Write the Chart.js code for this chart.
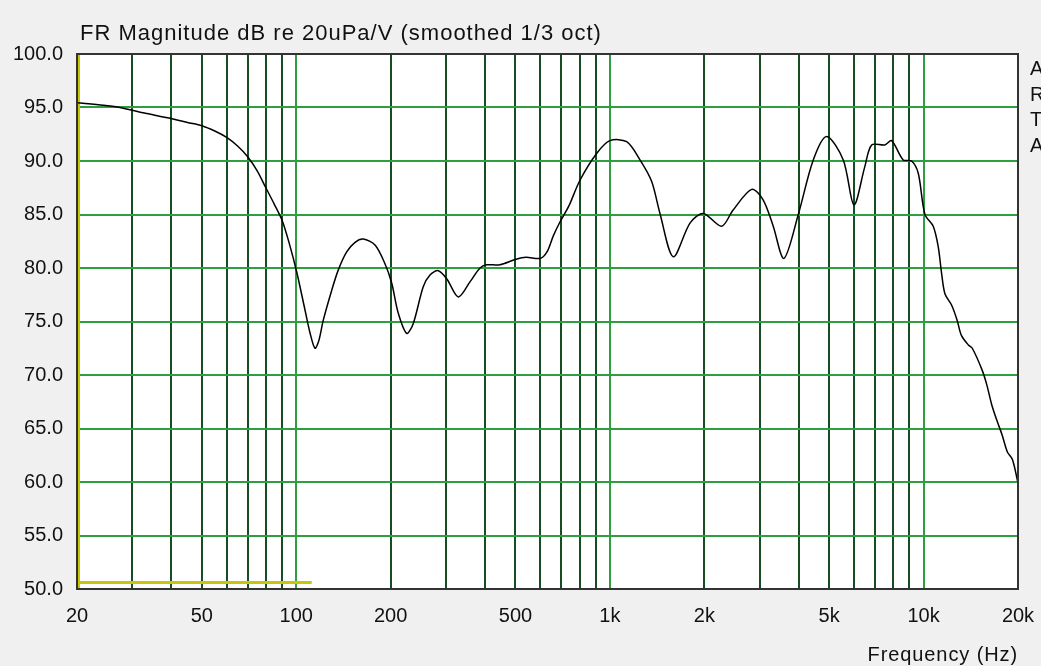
<!DOCTYPE html>
<html>
<head>
<meta charset="utf-8">
<title>FR Magnitude</title>
<script src="https://cdn.jsdelivr.net/npm/chart.js@4.4.1/dist/chart.umd.min.js"></script>
<style>
html, body { margin: 0; padding: 0; background: #f0f0f0; }
canvas { display: block; }
</style>
</head>
<body>
<canvas id="fr" width="1041" height="666"></canvas>
<script>
// Frequency response (Hz / dB)
var freqs = [20, 24.3, 27.4, 32.5, 39.6, 45, 50, 55, 60, 65, 70, 75, 80, 85, 90, 95, 100.3, 106.6, 110.5, 114.7, 118, 121.9,
    129.7, 136.1, 144.8, 154, 163.5, 178.3, 191.8, 201.5, 211.4, 225, 236, 254, 266.9, 283.6, 301.8, 328.6, 357.9, 385.3,
    404.6, 446, 500, 540, 600, 630, 660, 693, 740, 802.6, 907, 1000, 1131, 1247, 1358, 1444, 1592, 1800, 1984, 2270, 2468,
    2830, 3076, 3309, 3588, 3986, 4449, 4907, 5546, 5998, 6500, 6830, 7530, 7909, 8610, 9157, 9617, 10100, 10734, 11134,
    11414, 11696, 12300, 12800, 13200, 13900, 14300, 15350, 15900, 16500, 17200, 17800, 18500, 19200, 20000];
var levels = [95.45, 95.2, 95.0, 94.5, 94.0, 93.6, 93.3, 92.8, 92.2, 91.4, 90.4, 89.1, 87.5, 86.0, 84.5, 82.3, 79.65, 76.1, 74.0, 72.5, 73.2, 75.1,
    77.9, 79.8, 81.5, 82.4, 82.7, 82.15, 80.4, 78.6, 75.8, 73.9, 74.8, 78.25, 79.35, 79.75, 79.0, 77.3, 78.7, 80.0,
    80.3, 80.3, 80.8, 81.0, 80.9, 81.5, 83.0, 84.3, 85.8, 88.2, 90.7, 91.9, 91.8, 90.1, 88.1, 85.1, 81.05, 84.2, 85.1, 83.9, 85.4,
    87.35, 86.4, 84.0, 80.9, 85.0, 90.1, 92.3, 90.1, 85.9, 89.5, 91.5, 91.5, 91.9, 90.1, 90.0, 88.85, 85.0, 83.9, 82.0,
    79.5, 77.6, 76.5, 75.1, 73.7, 72.8, 72.5, 70.5, 69.1, 67.2, 65.6, 64.4, 62.8, 62.1, 59.9];

// grid / tick positions
var gridFreqs = [20, 30, 40, 50, 60, 70, 80, 90, 100, 200, 300, 400, 500, 600, 700, 800, 900,
    1000, 2000, 3000, 4000, 5000, 6000, 7000, 8000, 9000, 10000, 20000];
var freqLabels = { 20: "20", 50: "50", 100: "100", 200: "200", 500: "500", 1000: "1k", 2000: "2k", 5000: "5k", 10000: "10k", 20000: "20k" };
var decades = [100, 1000, 10000];

// yellow cursor marker
var markerLevel = 50.6;
var markerFreqs = [20, 112];

// cut-off legend entries on the right
var sideLetters = ["A", "R", "T", "A"];

var titleText = "FR Magnitude dB re 20uPa/V (smoothed 1/3 oct)";
var xTitleText = "Frequency (Hz)";
var textFont = "'Liberation Sans', Arial, sans-serif";
var textColor = "#111";

var overlay = {
    id: "overlay",
    beforeDraw: function(chart) {
        var ctx = chart.ctx, a = chart.chartArea;
        ctx.save();
        ctx.fillStyle = "#fff";
        ctx.fillRect(a.left, a.top, a.right - a.left, a.bottom - a.top);
        ctx.restore();
    },
    beforeDatasetsDraw: function(chart) {
        var ctx = chart.ctx, a = chart.chartArea;
        ctx.save();
        // yellow line along the left edge
        ctx.strokeStyle = "#c8c800";
        ctx.lineWidth = 2;
        ctx.beginPath();
        ctx.moveTo(a.left + 2, a.top);
        ctx.lineTo(a.left + 2, a.bottom);
        ctx.stroke();
        ctx.restore();
    },
    afterDatasetsDraw: function(chart) {
        var ctx = chart.ctx, a = chart.chartArea;
        ctx.save();
        // frame
        ctx.strokeStyle = "#333";
        ctx.lineWidth = 2;
        ctx.strokeRect(a.left, a.top, a.right - a.left, a.bottom - a.top);
        // title
        ctx.fillStyle = textColor;
        ctx.textBaseline = "alphabetic";
        ctx.textAlign = "left";
        ctx.font = "22px " + textFont;
        ctx.letterSpacing = "1px";
        ctx.fillText(titleText, 80, 40);
        // x axis title
        ctx.font = "20px " + textFont;
        ctx.letterSpacing = "0.9px";
        ctx.textAlign = "right";
        ctx.fillText(xTitleText, a.right, 661);
        // side letters
        ctx.letterSpacing = "0px";
        ctx.textAlign = "left";
        sideLetters.forEach(function(t, i) {
            ctx.fillText(t, 1030, 75 + i * 25.7);
        });
        ctx.restore();
    }
};

var chart = new Chart(document.getElementById("fr"), {
    type: "line",
    data: {
        datasets: [
            {
                data: freqs.map(function(f, i) { return { x: f, y: levels[i] }; }),
                borderColor: "#000",
                borderWidth: 1.5,
                pointRadius: 0,
                tension: 0.3,
                fill: false
            },
            {
                data: markerFreqs.map(function(f) { return { x: f, y: markerLevel }; }),
                borderColor: "#c8c800",
                borderWidth: 3,
                pointRadius: 0,
                tension: 0,
                fill: false
            }
        ]
    },
    options: {
        responsive: false,
        animation: false,
        layout: {
            padding: { top: 54, right: 23, left: 0, bottom: 0 }
        },
        plugins: {
            legend: { display: false },
            tooltip: { enabled: false }
        },
        scales: {
            x: {
                type: "logarithmic",
                min: 20,
                max: 20000,
                afterBuildTicks: function(scale) {
                    scale.ticks = gridFreqs.map(function(v) { return { value: v }; });
                },
                afterFit: function(scale) {
                    scale.height = 77;
                    scale.paddingLeft = 0;
                    scale.paddingRight = 0;
                },
                border: { display: false },
                grid: {
                    drawTicks: false,
                    lineWidth: 2,
                    color: function(c) {
                        var v = c.tick && c.tick.value;
                        if (v === 20 || v === 20000) return "rgba(0,0,0,0)";
                        return decades.indexOf(v) >= 0 ? "#2f9e40" : "#164e22";
                    }
                },
                ticks: {
                    autoSkip: false,
                    maxRotation: 0,
                    padding: 15,
                    color: textColor,
                    font: { size: 20, family: textFont },
                    callback: function(v) {
                        return freqLabels[v] || "";
                    }
                }
            },
            y: {
                min: 50,
                max: 100,
                afterFit: function(scale) {
                    scale.width = 77;
                },
                border: { display: false },
                grid: {
                    drawTicks: false,
                    lineWidth: 2,
                    color: "#2e9e40"
                },
                ticks: {
                    stepSize: 5,
                    padding: 14,
                    color: textColor,
                    font: { size: 20, family: textFont },
                    callback: function(v) {
                        return v.toFixed(1);
                    }
                }
            }
        }
    },
    plugins: [overlay]
});
</script>
</body>
</html>
